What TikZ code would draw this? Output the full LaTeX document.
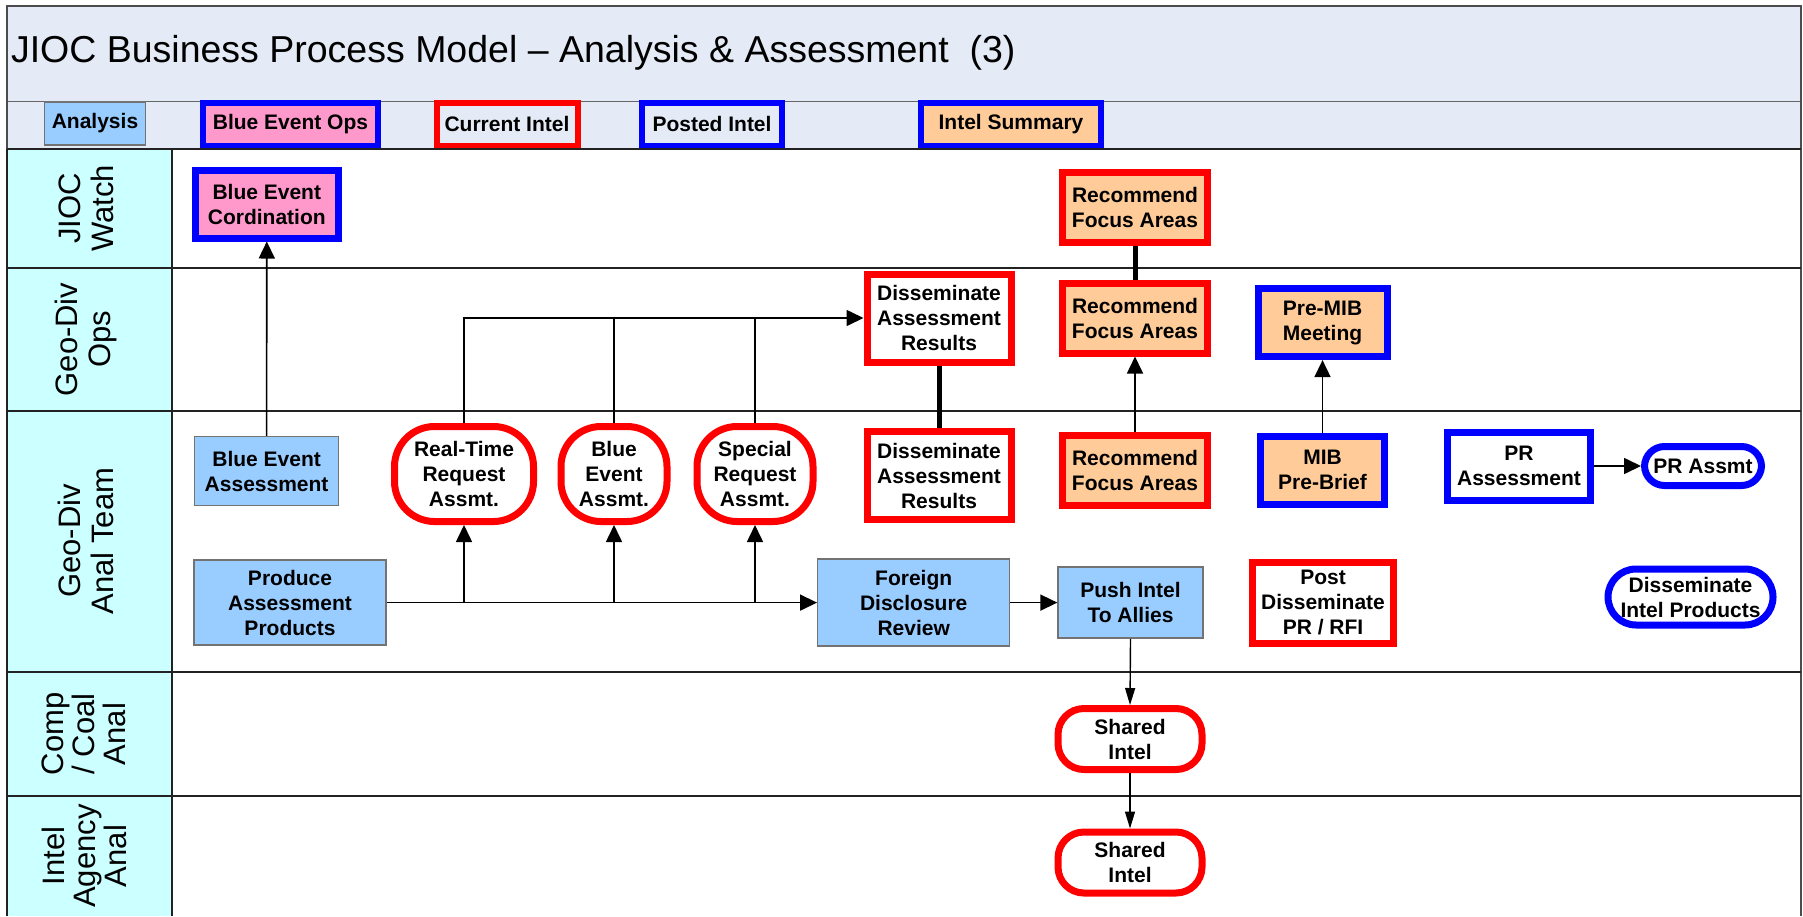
\documentclass[tikz,border=0pt]{standalone}
\usepackage{fontspec}
\setmainfont{Liberation Sans}
\usetikzlibrary{arrows.meta}
\definecolor{bandbg}{HTML}{E5EBF6}
\definecolor{lanebg}{HTML}{CCFFFF}
\definecolor{anablue}{HTML}{99CCFF}
\definecolor{evpink}{HTML}{FF99CC}
\definecolor{sumorange}{HTML}{FFCC99}
\definecolor{gridline}{HTML}{222222}
\begin{document}
\begin{tikzpicture}[x=1pt,y=-1pt,
  every node/.style={inner sep=0pt, outer sep=auto, align=center},
  txt/.style={font=\fontsize{21}{25}\selectfont\bfseries},
  lanelbl/.style={rotate=90, font=\fontsize{31}{33}\selectfont},
  anabox/.style={txt, fill=anablue, draw=black!55, line width=1.3pt},
  redbox/.style={txt, draw=red, line width=7pt, fill=white},
  bluebox/.style={txt, draw=blue, line width=7pt, fill=white},
  pill/.style={rounded corners=#1},
  flow/.style={line width=1.6pt, -{Triangle[length=17pt,width=16pt]}},
  thinflow/.style={line width=1.4pt, -{Triangle[length=17pt,width=10pt]}},
  joinline/.style={line width=1.6pt},
  heavylink/.style={line width=5pt},
]
\useasboundingbox (0,0) rectangle (1803,916);
\fill[white] (0,0) rectangle (1803,916);

% title band and legend row
\fill[bandbg] (7,6) rectangle (1801,149);
\draw[black!60, line width=1pt] (7,101) -- (1801,101);
\draw[black!70, line width=1.2pt] (1801,916) -- (1801,6) -- (7,6) -- (7,916);
\node[anchor=west, font=\fontsize{37.5}{40}\selectfont] (title) at (11,53)
  {JIOC Business Process Model – Analysis \& Assessment\ \ (3)};

% legend
\node[anabox, minimum width=101pt, minimum height=43pt] (lgA) at (95,123.5) {Analysis};
\node[bluebox, fill=evpink, line width=6pt, minimum width=175pt, minimum height=43pt] (lgB) at (290.5,124) {Blue Event Ops};
\node[redbox, fill=bandbg, line width=6pt, minimum width=141pt, minimum height=43pt] (lgC) at (507,124) {Current Intel};
\node[bluebox, fill=bandbg, line width=6pt, minimum width=140pt, minimum height=43pt] (lgD) at (712,124) {Posted Intel};
\node[bluebox, fill=sumorange, line width=6pt, minimum width=180pt, minimum height=43pt] (lgE) at (1011,124) {Intel Summary};

% swim lanes
\fill[lanebg] (7,149) rectangle (172,916);
\foreach \yy in {149,268,411,672,796}
  \draw[gridline, line width=2pt] (7,\yy) -- (1801,\yy);
\draw[gridline, line width=2pt] (172,149) -- (172,916);
\draw[gridline, line width=2pt] (7,149) -- (7,916);

\node[lanelbl] (l1) at (86,208.5) {JIOC\\Watch};
\node[lanelbl] (l2) at (86,339.5) {Geo-Div\\Ops};
\node[lanelbl] (l3) at (86,541) {Geo-Div\\Anal Team};
\node[lanelbl, font=\fontsize{31}{31}\selectfont] (l4) at (84,734) {Comp\\/ Coal\\Anal};
\node[lanelbl, font=\fontsize{31}{31}\selectfont] (l5) at (84,856) {Intel\\Agency\\Anal};

% JIOC Watch
\node[bluebox, fill=evpink, minimum width=143pt, minimum height=68pt] (bec) at (266.8,204) {Blue Event\\Cordination};
\node[redbox, fill=sumorange, minimum width=145pt, minimum height=70pt] (rf1) at (1135,207.6) {Recommend\\Focus Areas};

% Geo-Div Ops
\node[redbox, minimum width=144pt, minimum height=88pt] (dis1) at (939,318) {Disseminate\\Assessment\\Results};
\node[redbox, fill=sumorange, minimum width=145pt, minimum height=70pt] (rf2) at (1135,318) {Recommend\\Focus Areas};
\node[bluebox, fill=sumorange, minimum width=129pt, minimum height=68pt] (pmib) at (1322.5,322.6) {Pre-MIB\\Meeting};

% Geo-Div Anal Team
\node[anabox, minimum width=144pt, minimum height=69pt] (bea) at (266.6,471) {Blue Event\\Assessment};
\node[redbox, pill=40pt, minimum width=139pt, minimum height=95pt] (rt) at (464,474) {Real-Time\\Request\\Assmt.};
\node[redbox, pill=40pt, minimum width=106pt, minimum height=95pt] (be) at (614,474) {Blue\\Event\\Assmt.};
\node[redbox, pill=40pt, minimum width=116pt, minimum height=95pt] (sp) at (755,474) {Special\\Request\\Assmt.};
\node[redbox, minimum width=144pt, minimum height=88pt] (dis2) at (939,475.5) {Disseminate\\Assessment\\Results};
\node[redbox, fill=sumorange, minimum width=145pt, minimum height=70pt] (rf3) at (1135,470) {Recommend\\Focus Areas};
\node[bluebox, fill=sumorange, minimum width=124pt, minimum height=68pt] (mib) at (1322.5,470) {MIB\\Pre-Brief};
\node[bluebox, minimum width=143pt, minimum height=68pt] (pra) at (1519,466) {PR\\Assessment};
\node[bluebox, pill=20pt, minimum width=117pt, minimum height=39pt] (prs) at (1703,466) {PR Assmt};

\node[anabox, minimum width=192pt, minimum height=85pt] (prod) at (290,602.6) {Produce\\Assessment\\Products};
\node[anabox, minimum width=192pt, minimum height=87pt] (fdr) at (913.7,602.6) {Foreign\\Disclosure\\Review};
\node[anabox, minimum width=145pt, minimum height=71pt] (push) at (1130.5,602.6) {Push Intel\\To Allies};
\node[redbox, minimum width=141pt, minimum height=81pt] (post) at (1323,602.6) {Post\\Disseminate\\PR / RFI};
\node[bluebox, pill=28pt, minimum width=165pt, minimum height=56pt] (dip) at (1690.5,597) {Disseminate\\Intel Products};

% Comp / Coal Anal and Intel Agency Anal
\node[redbox, pill=26pt, minimum width=144pt, minimum height=61pt] (sh1) at (1130,739) {Shared\\Intel};
\node[redbox, pill=26pt, minimum width=144pt, minimum height=61pt] (sh2) at (1130,862.5) {Shared\\Intel};

% connectors
\draw[flow] (bea.north) -- (bec.south);
\draw[flow] (rt.north) |- (dis1.west);
\draw[joinline] (be.north) -- (be.north |- dis1.west);
\draw[joinline] (sp.north) -- (sp.north |- dis1.west);
\draw[flow] (prod.east) -- (fdr.west);
\draw[flow] (rt.south |- prod.east) -- (rt.south);
\draw[flow] (be.south |- prod.east) -- (be.south);
\draw[flow] (sp.south |- prod.east) -- (sp.south);
\draw[heavylink] (dis1.south) -- (dis2.north);
\draw[heavylink] (rf1.south) -- (rf2.north);
\draw[flow] (rf3.north) -- (rf2.south);
\draw[flow] (mib.north) -- (pmib.south);
\draw[flow] (pra.east) -- (prs.west);
\draw[flow] (fdr.east) -- (push.west);
\draw[thinflow] (push.south) -- (sh1.north);
\draw[thinflow] (sh1.south) -- (sh2.north);
\end{tikzpicture}
\end{document}
